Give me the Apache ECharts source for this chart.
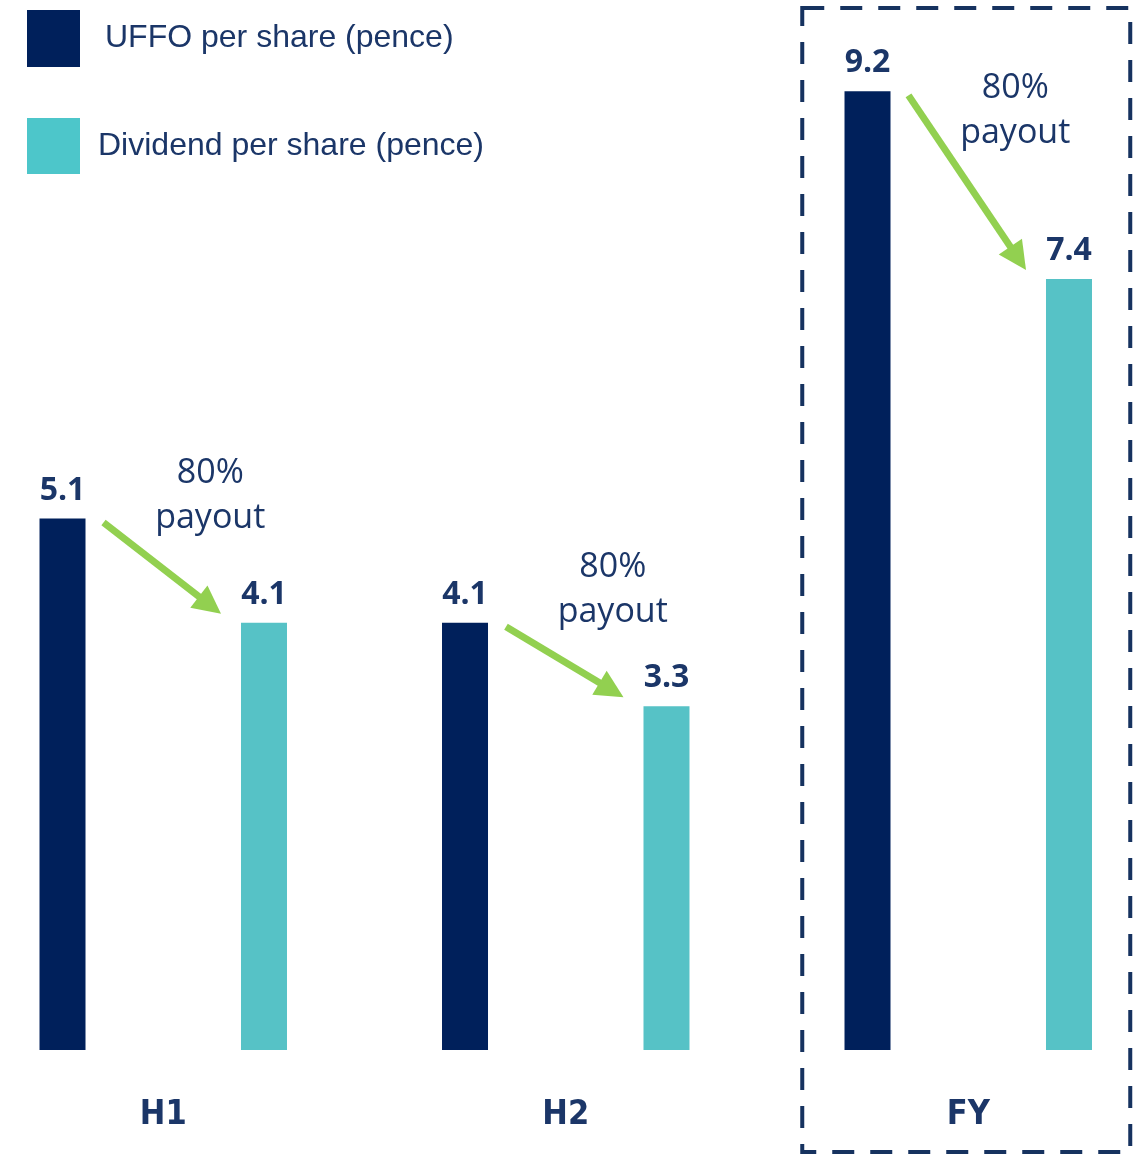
<!DOCTYPE html>
<html>
<head>
    <meta charset="utf-8">
    <title>UFFO vs dividend</title>
    <script src="https://cdn.jsdelivr.net/npm/echarts@6/dist/echarts.min.js"></script>
    <style>
        html, body { height: 100%; margin: 0; padding: 0; background: #fff; }
    </style>
</head>
<body>
<div id="chart-box" style="width:1146px; height:1154px;"></div>
<script type="text/javascript">
    const periods = ["H1", "H2", "FY"];
    const uffo = [5.1, 4.1, 9.2];
    const dividend = [4.1, 3.3, 7.4];
    const payoutText = "80%\npayout";

    const navy = "#00205b";
    const teal = "#56c2c6";
    const textNavy = "#1b3668";
    const green = "#92d050";

    const chart = echarts.init(document.getElementById("chart-box"));

    const option = {
        animation: false,
        legend: [
            {
                data: [{ name: "UFFO per share (pence)", itemStyle: { color: navy } }],
                left: 22, top: 5, itemWidth: 53, itemHeight: 57,
                icon: "rect", selectedMode: false,
                textStyle: { fontFamily: "Liberation Sans", fontSize: 32, color: textNavy, padding: [0, 0, 0, 20] }
            },
            {
                data: [{ name: "Dividend per share (pence)", itemStyle: { color: "#4dc6ca" } }],
                left: 22, top: 113, itemWidth: 53, itemHeight: 56,
                icon: "rect", selectedMode: false,
                textStyle: { fontFamily: "Liberation Sans", fontSize: 32, color: textNavy, padding: [0, 0, 0, 13] }
            }
        ],
        grid: { left: -38, right: -23.5, top: 8, bottom: 104, outerBoundsMode: "none", containLabel: false },
        xAxis: {
            type: "category",
            data: periods,
            axisLine: { show: false },
            axisTick: { show: false },
            axisLabel: {
                margin: 48,
                fontFamily: "'Liberation Sans Narrow', 'DejaVu Sans Condensed', 'Liberation Sans', sans-serif",
                fontWeight: "bold",
                fontSize: 34,
                color: textNavy
            }
        },
        yAxis: { type: "value", min: 0, max: 10, show: false, splitLine: { show: false } },
        series: [
            {
                name: "UFFO per share (pence)",
                type: "bar",
                data: uffo,
                barWidth: 46,
                barGap: "338%",
                itemStyle: { color: navy },
                label: { show: true, position: "top", distance: 12, fontFamily: "Open Sans", fontWeight: "bold", fontSize: 32, color: textNavy }
            },
            {
                name: "Dividend per share (pence)",
                type: "bar",
                data: dividend,
                barWidth: 46,
                itemStyle: { color: teal },
                label: { show: true, position: "top", distance: 12, fontFamily: "Open Sans", fontWeight: "bold", fontSize: 32, color: textNavy }
            }
        ]
    };
    chart.setOption(option);

    // arrows, payout notes and the dashed FY box, placed from the axis scale
    const half = 100.75, bw = 23;
    const graphics = [];
    periods.forEach((p, i) => {
        const a = chart.convertToPixel({ gridIndex: 0 }, [p, uffo[i]]);
        const b = chart.convertToPixel({ gridIndex: 0 }, [p, dividend[i]]);
        const x1 = a[0] - half + bw + 18, y1 = a[1] + 4;
        const x2 = b[0] + half - bw - 20, y2 = b[1] - 9;
        const dx = x2 - x1, dy = y2 - y1, len = Math.sqrt(dx * dx + dy * dy);
        const ux = dx / len, uy = dy / len;
        const head = 28, hw = 14;
        const bx = x2 - ux * head, by = y2 - uy * head;
        graphics.push({
            type: "line",
            shape: { x1: x1, y1: y1, x2: bx + ux * 2, y2: by + uy * 2 },
            style: { stroke: green, lineWidth: 7 }
        });
        graphics.push({
            type: "polygon",
            shape: { points: [[x2, y2], [bx - uy * hw, by + ux * hw], [bx + uy * hw, by - ux * hw]] },
            style: { fill: green }
        });
        const mx = (x1 + x2) / 2, my = (y1 + y2) / 2;
        graphics.push({
            type: "text",
            x: mx + 48, y: my - 72,
            style: {
                text: payoutText, fontFamily: "Open Sans", fontSize: 34, lineHeight: 45,
                fill: textNavy, align: "center", verticalAlign: "middle"
            }
        });
    });
    const fy = chart.convertToPixel({ gridIndex: 0 }, ["FY", 0]);
    graphics.push({
        type: "rect",
        shape: { x: fy[0] - 166, y: 8, width: 328, height: fy[1] + 102 - 8 },
        style: { fill: null, stroke: "#16325f", lineWidth: 4, lineDash: [22, 16] }
    });
    chart.setOption({ graphic: graphics });
</script>
</body>
</html>
